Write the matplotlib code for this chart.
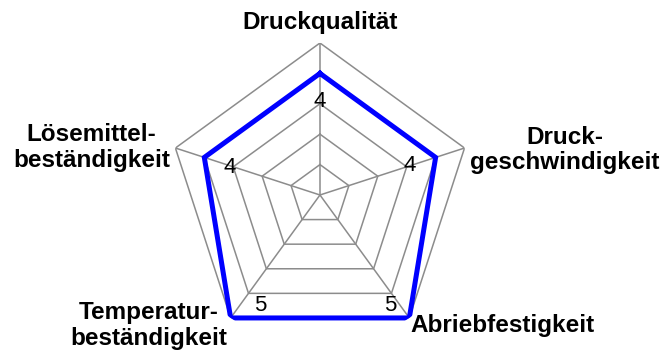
import numpy as np
import matplotlib
matplotlib.use("Agg")
import matplotlib.pyplot as plt

plt.rcParams['font.family'] = ['Liberation Sans', 'DejaVu Sans']

categories = ['Druckqualität', 'Druck-\ngeschwindigkeit', 'Abriebfestigkeit',
              'Temperatur-\nbeständigkeit', 'Lösemittel-\nbeständigkeit']
values = [4, 4, 5, 5, 4]
rings = [1, 2, 3, 4, 5]

n = len(categories)
angles = np.linspace(0, 2 * np.pi, n, endpoint=False)
closed = np.append(angles, angles[0])

fig = plt.figure(figsize=(6.6, 3.5), dpi=100)
ax = fig.add_axes([0.2545, 0.0086, 0.4606, 0.8686], projection='polar')
ax.set_theta_offset(np.pi / 2)
ax.set_theta_direction(-1)
ax.set_ylim(0, 5)
ax.grid(False)
ax.spines['polar'].set_visible(False)
ax.set_xticks([])
ax.set_yticks([])
ax.patch.set_alpha(0)

grid_col = '#8c8c8c'
for r in rings:
    ax.plot(closed, [r] * (n + 1), color=grid_col, lw=1.1, zorder=1)
for a in angles:
    ax.plot([a, a], [0, rings[-1]], color=grid_col, lw=1.1, zorder=1)

ax.plot(closed, np.append(values, values[0]), color='#0000ff', lw=3.6,
        solid_joinstyle='miter', zorder=3)

# data labels, pushed inward from each point (offsets in points)
offsets = [(0, -20), (-19, -6), (-14, 9), (21, 9), (18, -7)]
for a, v, off in zip(angles, values, offsets):
    ax.annotate(str(v), (a, v), xytext=off, textcoords='offset points',
                ha='center', va='center', fontsize=16, zorder=4)

# category labels (figure fractions)
label_pos = [(0.485, 0.937), (0.856, 0.571), (0.762, 0.071), (0.226, 0.071), (0.139, 0.579)]
for text, (x, y) in zip(categories, label_pos):
    fig.text(x, y, text, ha='center', va='center', fontsize=17.5,
             fontweight='bold', linespacing=1.15)

fig.savefig('out.png', dpi=100)
